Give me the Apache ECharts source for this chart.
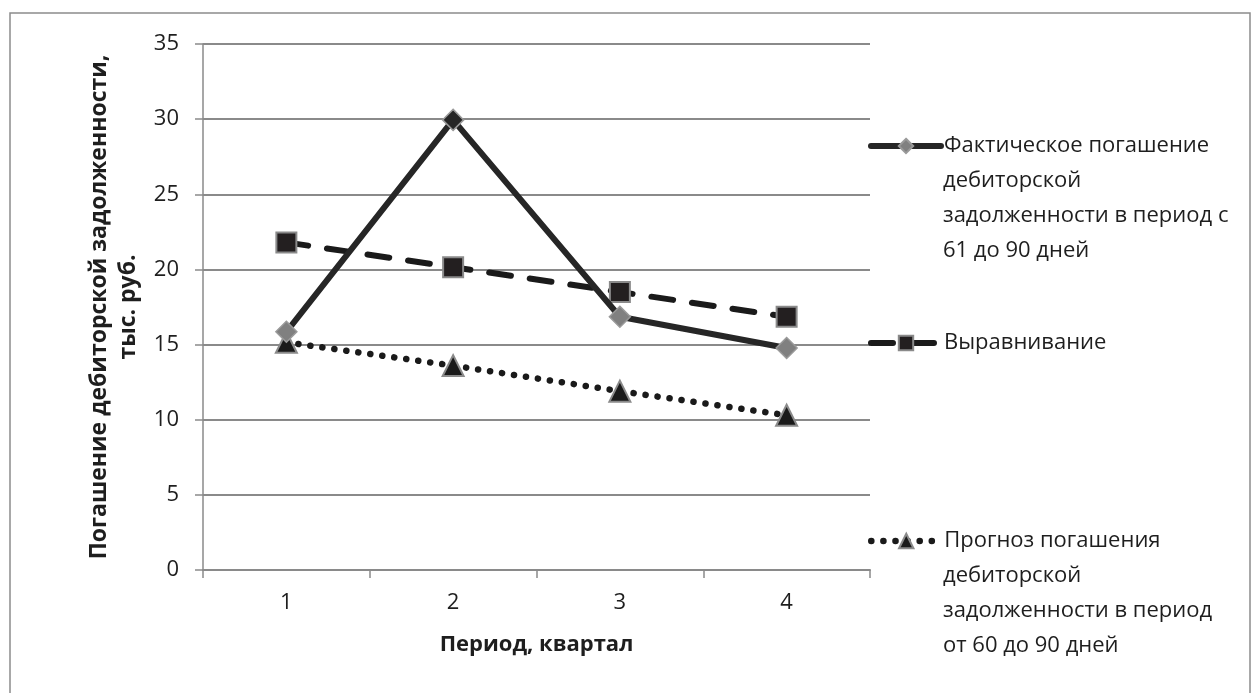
<!DOCTYPE html>
<html><head><meta charset="utf-8">
<script src="https://cdn.jsdelivr.net/npm/echarts@6/dist/echarts.min.js"></script>
<style>html,body{margin:0;padding:0;background:#fff}#c{width:1260px;height:693px}</style>
</head><body><div id="c"></div>
<script>
var categories = ['1', '2', '3', '4'];
var actual = [15.85, 29.95, 16.85, 14.77];
var trend = [21.8, 20.15, 18.5, 16.85];
var forecast = [15.15, 13.6, 11.9, 10.3];
var seriesNames = ['Фактическое погашение', 'Выравнивание', 'Прогноз погашения'];
var legendExtraLines = [
  ['дебиторской', 'задолженности в период с', '61 до 90 дней'],
  [],
  ['дебиторской', 'задолженности в период', 'от 60 до 90 дней']
];
var yAxisTitle = 'Погашение дебиторской задолженности,\nтыс. руб.';
var xAxisTitle = 'Период, квартал';

var FONT = 'Open Sans';
var DARK = '#262626';
var GRAY = '#808080';
var AX = '#8a8a8a';
var TXT = '#1e1e1e';
var LEG_Y = [146, 343, 541];
var LINE_H = 35;

var chart = echarts.init(document.getElementById('c'), null, {renderer: 'canvas'});
var actualData = actual.map(function (v, i) {
  return i === 1 ? {value: v, itemStyle: {color: DARK}} : v;
});
var lineStyles = [
  {color: DARK, width: 6, type: 'solid', cap: 'round'},
  {color: '#1a1a1a', width: 6, type: [22, 19], cap: 'round'},
  {color: '#1a1a1a', width: 6.5, type: [0.1, 12], cap: 'round'}
];
function legendCfg(i) {
  return {
    data: [seriesNames[i]], left: 868, top: LEG_Y[i] - LINE_H / 2, padding: 0,
    itemWidth: 70, itemHeight: 18, itemGap: 0,
    textStyle: {fontFamily: FONT, fontSize: 22, color: TXT, lineHeight: LINE_H, padding: [0, 0, 0, -2]},
    lineStyle: lineStyles[i],
    selectedMode: false
  };
}
var graphics = [{type: 'rect', shape: {x: 10, y: 13, width: 1240, height: 720},
  style: {fill: 'none', stroke: '#8c8c8c', lineWidth: 1.5}, silent: true}];
legendExtraLines.forEach(function (lines, i) {
  lines.forEach(function (t, k) {
    graphics.push({type: 'text', x: 943, y: LEG_Y[i] + LINE_H * (k + 1), silent: true,
      style: {text: t, fontFamily: FONT, fontSize: 22, fill: TXT,
        textAlign: 'left', textVerticalAlign: 'middle'}});
  });
});
chart.setOption({
  animation: false,
  textStyle: {fontFamily: FONT},
  graphic: graphics,
  legend: [legendCfg(0), legendCfg(1), legendCfg(2)],
  grid: {left: 203, right: 390, top: 44, bottom: 123},
  xAxis: {
    type: 'category', data: categories, boundaryGap: true,
    axisLine: {lineStyle: {color: AX, width: 2}},
    axisTick: {show: true, length: 8, lineStyle: {color: AX, width: 1.5}},
    axisLabel: {fontSize: 22, color: TXT, margin: 22, fontFamily: FONT},
    name: xAxisTitle, nameLocation: 'middle', nameGap: 64,
    nameTextStyle: {fontSize: 22, fontWeight: 'bold', color: TXT, fontFamily: FONT}
  },
  yAxis: {
    type: 'value', min: 0, max: 35, interval: 5,
    axisLine: {show: true, lineStyle: {color: AX, width: 1.5}},
    axisTick: {show: true, length: 8, lineStyle: {color: AX, width: 1.5}},
    axisLabel: {fontSize: 22, color: TXT, margin: 24, fontFamily: FONT},
    splitLine: {lineStyle: {color: AX, width: 1.8}},
    name: yAxisTitle, nameLocation: 'middle', nameGap: 58, nameRotate: 90,
    nameTextStyle: {fontSize: 23, fontWeight: 'bold', color: TXT, lineHeight: 29, fontFamily: FONT}
  },
  series: [
    {name: seriesNames[0], type: 'line', data: actualData, z: 3,
      symbol: 'diamond', symbolSize: 21,
      lineStyle: lineStyles[0],
      itemStyle: {color: GRAY, borderColor: '#9a9a9a', borderWidth: 1.5}},
    {name: seriesNames[1], type: 'line', data: trend, z: 2,
      symbol: 'rect', symbolSize: 20,
      lineStyle: lineStyles[1],
      itemStyle: {color: '#231f20', borderColor: '#8a8a8a', borderWidth: 2}},
    {name: seriesNames[2], type: 'line', data: forecast, z: 2,
      symbol: 'triangle', symbolSize: 21,
      lineStyle: lineStyles[2],
      itemStyle: {color: '#1a1a1a', borderColor: '#8a8a8a', borderWidth: 2}}
  ]
});
</script></body></html>
